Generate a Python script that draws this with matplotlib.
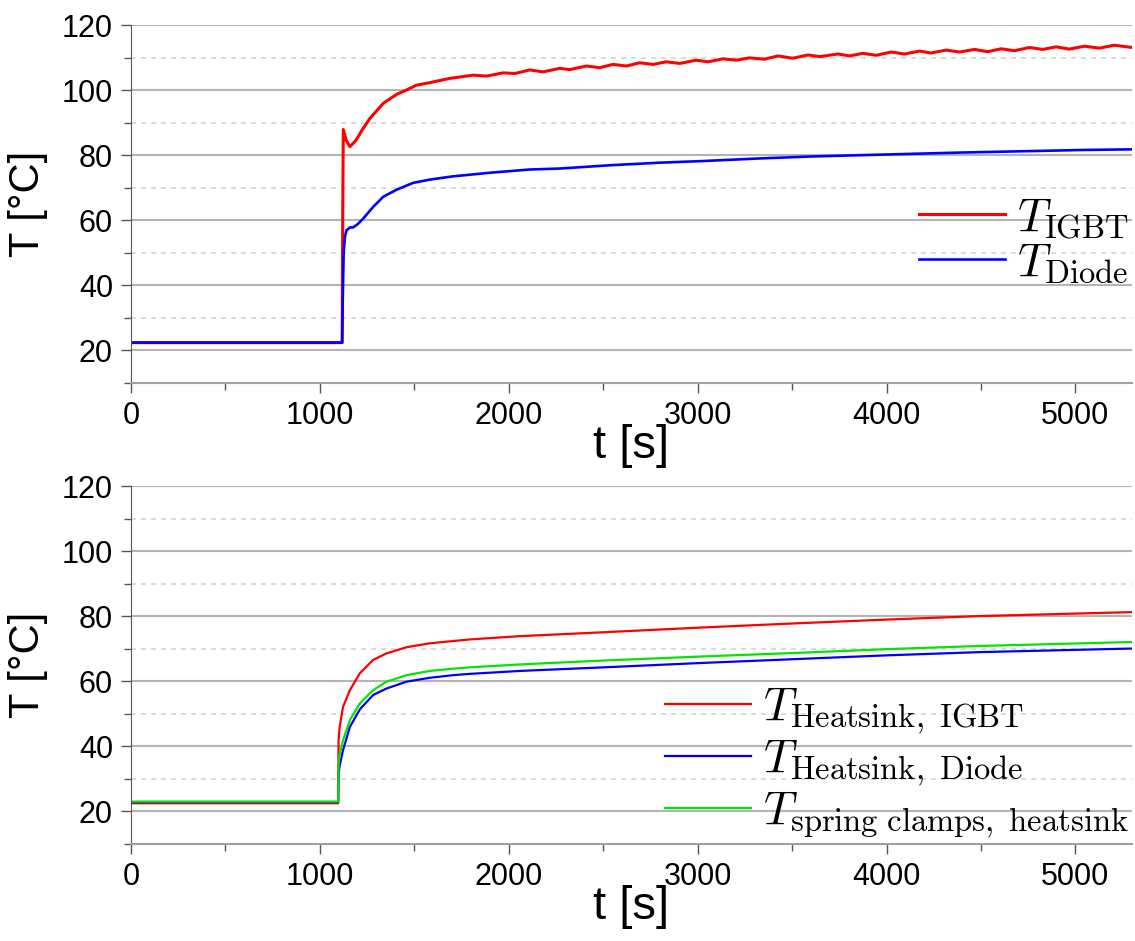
import numpy as np
import matplotlib
matplotlib.use('Agg')
import matplotlib.pyplot as plt
from matplotlib.ticker import MultipleLocator

plt.rcParams['font.family'] = ['Liberation Sans', 'DejaVu Sans']
plt.rcParams['mathtext.fontset'] = 'cm'

# --- top panel: junction temperatures ---
t_igbt = [0, 1118, 1121, 1124, 1140, 1159, 1190, 1230, 1265, 1335, 1406, 1450, 1511, 1582,
          1688, 1811, 1882, 1970, 2032, 2111, 2182, 2270, 2323, 2411, 2481, 2552, 2623, 2693,
          2764, 2834, 2905, 2993, 3055, 3134, 3205, 3275, 3354, 3425, 3504, 3584, 3646, 3743,
          3804, 3875, 3945, 4025, 4095, 4175, 4236, 4316, 4386, 4466, 4536, 4607, 4677, 4757,
          4827, 4898, 4968, 5048, 5127, 5206, 5300]
T_igbt = [22.4, 22.4, 60, 87.9, 84.5, 82.6, 84.5, 88.3, 91.3, 95.9, 98.7, 99.8, 101.5, 102.3,
          103.6, 104.6, 104.3, 105.3, 105.1, 106.2, 105.6, 106.7, 106.3, 107.4, 106.9, 107.9,
          107.4, 108.4, 107.9, 108.7, 108.2, 109.2, 108.7, 109.6, 109.2, 109.9, 109.5, 110.5,
          109.8, 110.8, 110.3, 111.1, 110.5, 111.3, 110.7, 111.7, 111.1, 112.0, 111.4, 112.3,
          111.7, 112.5, 111.8, 112.7, 112.1, 113.1, 112.5, 113.3, 112.6, 113.5, 112.9, 113.8,
          113.1]

t_diode = [0, 1118, 1121, 1126, 1133, 1141, 1159, 1176, 1200, 1229, 1282, 1335, 1406, 1494,
           1582, 1705, 1899, 2111, 2270, 2534, 2799, 3026, 3328, 3600, 3857, 4386, 5035, 5300]
T_diode = [22.4, 22.4, 35, 50, 55, 56.9, 57.8, 57.8, 58.8, 60.5, 64.1, 67.2, 69.4, 71.5,
           72.5, 73.5, 74.6, 75.6, 75.9, 76.9, 77.7, 78.2, 79.0, 79.6, 80.0, 80.8, 81.6, 81.8]

# --- bottom panel: heatsink temperatures ---
t_hs = [0, 1097, 1099, 1105, 1123, 1159, 1212, 1282, 1353, 1459, 1582, 1705, 1794, 2058,
        2500, 3000, 3500, 4000, 4500, 5300]
T_hs_igbt = [22.4, 22.4, 41.8, 46.0, 52.1, 57.2, 62.4, 66.5, 68.5, 70.4, 71.6, 72.3, 72.8,
             73.8, 75.0, 76.4, 77.7, 78.9, 80.0, 81.2]
T_hs_diode = [22.7, 22.7, 31.6, 34.0, 38.8, 45.9, 51.3, 55.7, 57.7, 59.8, 61.0, 61.8, 62.2,
              63.1, 64.2, 65.5, 66.7, 67.9, 68.9, 70.0]
T_clamps = [22.9, 22.9, 34.7, 37.5, 41.8, 48.0, 53.1, 57.2, 59.8, 61.8, 63.1, 63.8, 64.2,
            65.1, 66.3, 67.5, 68.6, 69.8, 70.8, 72.0]

fig = plt.figure(figsize=(11.35, 9.41), dpi=100)
ax1 = fig.add_axes([0.1154, 0.593, 0.882, 0.3804])
ax2 = fig.add_axes([0.1154, 0.1036, 0.882, 0.3799])


def style(ax):
    ax.set_xlim(0, 5300)
    ax.set_ylim(10, 120)
    ax.xaxis.set_major_locator(MultipleLocator(1000))
    ax.xaxis.set_minor_locator(MultipleLocator(500))
    ax.yaxis.set_major_locator(MultipleLocator(20))
    ax.yaxis.set_minor_locator(MultipleLocator(10))
    ax.grid(True, which='major', axis='y', color='#b4b4b4', lw=1.5)
    ax.grid(True, which='minor', axis='y', color='#d4d4d4', lw=1.2, ls=(0, (3, 3)))
    ax.set_axisbelow(True)
    for s in ['top', 'right']:
        ax.spines[s].set_visible(False)
    ax.spines['left'].set_color('#555555')
    ax.spines['bottom'].set_color('#a0a0a0')
    ax.spines['bottom'].set_linewidth(1.5)
    ax.tick_params(which='major', direction='out', length=7, width=1, color='#555555',
                   labelsize=22, pad=6)
    ax.tick_params(which='minor', direction='out', length=5, width=1, color='#555555')
    ax.set_xlabel('t [s]', fontsize=34, labelpad=-5)
    ax.set_ylabel('T [°C]', fontsize=30, labelpad=10)


style(ax1)
style(ax2)

ax1.plot(t_igbt, T_igbt, color='#ff0000', lw=2.2, label=r'$T_{\mathrm{IGBT}}$')
ax1.plot(t_diode, T_diode, color='#0000ff', lw=1.9, label=r'$T_{\mathrm{Diode}}$')
ax1.legend(loc='center right', bbox_to_anchor=(1.02, 0.397), frameon=False, fontsize=33.5,
           handlelength=1.85, handletextpad=0.25, labelspacing=0.02, borderpad=0)

ax2.plot(t_hs, T_hs_igbt, color='#ff0000', lw=1.6, label=r'$T_{\mathrm{Heatsink,\ IGBT}}$')
ax2.plot(t_hs, T_hs_diode, color='#0000ff', lw=1.6, label=r'$T_{\mathrm{Heatsink,\ Diode}}$')
ax2.plot(t_hs, T_clamps, color='#00e600', lw=1.6,
         label=r'$T_{\mathrm{spring\ clamps,\ heatsink}}$')
ax2.legend(loc='lower right', bbox_to_anchor=(1.02, -0.056), frameon=False, fontsize=33.5,
           handlelength=1.85, handletextpad=0.25, labelspacing=0.02, borderpad=0)

fig.savefig('out.png', dpi=100, facecolor='white')
